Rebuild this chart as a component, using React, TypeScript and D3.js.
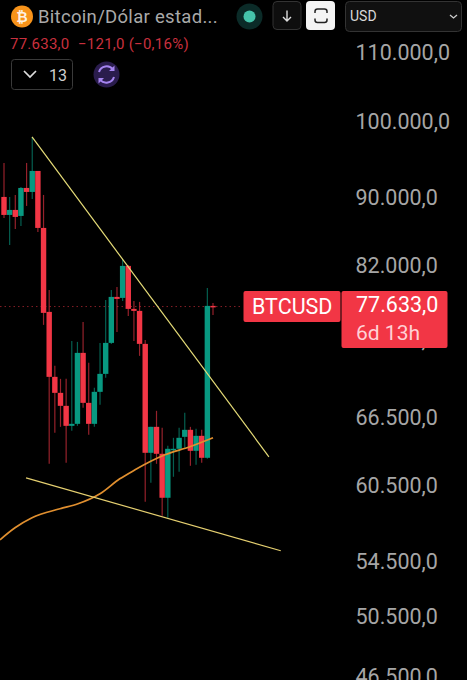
import React from "react";
import * as d3 from "d3";

const opens = [90310, 88095, 88705, 87974, 91438, 90935, 93607, 86529, 77064, 70456, 68918, 67693, 65851, 66033, 72826, 67973, 66033, 69014, 70747, 73837, 78674, 78566, 82112, 77383, 77170, 73736, 63446, 65760, 63359, 59629, 63709, 63797, 64860, 65489, 63621, 64950, 63010, 77704];
const highs = [94646, 90310, 90559, 91564, 94646, 98100, 93607, 90559, 79437, 71532, 70262, 70262, 74041, 73939, 76008, 71829, 69396, 73837, 78349, 79437, 79767, 82908, 82225, 78241, 78133, 74144, 65760, 67228, 65669, 64061, 64771, 65669, 67043, 65760, 65579, 65489, 79658, 78026];
const lows = [87732, 84525, 86411, 86769, 89196, 90061, 86054, 75694, 62491, 65219, 65760, 62577, 65399, 65851, 67506, 65039, 65760, 67786, 70359, 73736, 74967, 78241, 76639, 74041, 72525, 59300, 60875, 62491, 58166, 58005, 61381, 61805, 63885, 62319, 62404, 62577, 62923, 76746];
const closes = [88095, 88705, 87853, 91438, 90935, 93607, 86529, 76958, 70456, 68918, 67693, 65851, 66033, 72826, 67973, 66033, 69014, 70747, 73837, 78674, 78458, 82112, 77383, 77170, 73736, 63446, 65760, 63359, 59629, 63797, 63797, 64771, 65489, 63621, 64950, 63010, 77704, 77633];

const priceTicks = [110000, 100000, 90000, 82000, 74000, 66500, 60500, 54500, 50500, 46500];
const tickLabels = ["110.000,0", "100.000,0", "90.000,0", "82.000,0", "74.000,0", "66.500,0", "60.500,0", "54.500,0", "50.500,0", "46.500,0"];

const upperTrendIdx = [4.96, 46.9];
const upperTrendPrice = [98100, 63097];
const lowerTrendIdx = [3.9, 49];
const lowerTrendPrice = [61295, 55423];
const maIdx = [-0.71, 1.95, 4.96, 9.9, 13.1, 17, 20.5, 23.2, 25.8, 28.5, 32.9, 37];
const maPrice = [56269, 57209, 58005, 58731, 59134, 59956, 61209, 61974, 62663, 63271, 63973, 64771];

const lastPrice = 77633;
const RED = "#f23645";
const GREEN = "#089981";
const FONT = "Roboto, sans-serif";

export default function App() {
  const x = d3.scaleLinear().domain([0, 37]).range([4, 213]);
  const y = d3.scaleLog().domain([110000, 46500]).range([54, 678]);
  const line = d3.line<[number, number]>().x((d) => x(d[0])).y((d) => y(d[1]));
  const smooth = d3.line<[number, number]>().x((d) => x(d[0])).y((d) => y(d[1])).curve(d3.curveMonotoneX);
  const zip = (a: number[], b: number[]) => a.map((v, i) => [v, b[i]] as [number, number]);
  const bw = 5.4;
  const lastY = y(lastPrice);

  return (
    <svg width={467} height={680} style={{ position: "absolute", left: 0, top: 0, display: "block", background: "#000" }} fontFamily={FONT}>
      <rect width={467} height={680} fill="#000" />
      <line x1={0} x2={243} y1={lastY} y2={lastY} stroke={RED} strokeOpacity={0.55} strokeWidth={1} strokeDasharray="1.5 3" />

      {opens.map((o, i) => {
        const c = closes[i];
        const col = c < o ? RED : GREEN;
        const top = Math.min(y(o), y(c));
        const h = Math.max(1.5, Math.abs(y(o) - y(c)));
        return (
          <g key={i}>
            <line x1={x(i)} x2={x(i)} y1={y(highs[i])} y2={y(lows[i])} stroke={col} strokeOpacity={0.62} strokeWidth={1.2} />
            <rect x={x(i) - bw / 2} y={top} width={bw} height={h} fill={col} />
          </g>
        );
      })}

      <path d={smooth(zip(maIdx, maPrice)) ?? ""} fill="none" stroke="#e08f2f" strokeWidth={1.7} />
      <path d={line(zip(upperTrendIdx, upperTrendPrice)) ?? ""} fill="none" stroke="#e6dc78" strokeWidth={1.2} />
      <path d={line(zip(lowerTrendIdx, lowerTrendPrice)) ?? ""} fill="none" stroke="#e6d070" strokeWidth={1.2} />

      {priceTicks.map((p, i) => (
        <text key={p} x={355.5} y={y(p) + 6} fontSize={21.5} fill="#a6a6a6">{tickLabels[i]}</text>
      ))}

      <rect x={243.5} y={291} width={97} height={31} rx={2} fill={RED} />
      <rect x={341.5} y={291} width={106} height={57} rx={2} fill={RED} />
      <text x={252} y={314} fontSize={21.5} fill="#fff">BTCUSD</text>
      <text x={356} y={312} fontSize={21.5} fill="#fff">77.633,0</text>
      <text x={356} y={340} fontSize={21} fill="#ffd0d5">6d 13h</text>

      <circle cx={22} cy={16.5} r={11} fill="#f7931a" />
      <text x={22} y={21.5} fontSize={14} fontWeight={700} textAnchor="middle" fill="#fff" fillOpacity={0.9}>₿</text>
      <text x={38} y={23} fontSize={18.5} fill="#a9a9a9" letterSpacing={0.3}>Bitcoin/Dólar estad...</text>
      <text x={10} y={49} fontSize={15} fill="#c9303e" letterSpacing={0.25}>77.633,0</text>
      <text x={78} y={49} fontSize={15} fill="#c9303e" letterSpacing={0.25}>−121,0 (−0,16%)</text>

      <circle cx={249.5} cy={16.5} r={13} fill="#0b2b28" />
      <circle cx={249.5} cy={16.5} r={6} fill="#45c4ab" />

      <rect x={273} y={1.5} width={28} height={28} rx={4} fill="#0e0e0e" stroke="#333" />
      <path d="M287 10.5V21M283 17l4 4 4-4" fill="none" stroke="#ddd" strokeWidth={1.4} />

      <rect x={306} y={1} width={29} height={29} rx={4} fill="#f4f4f4" />
      <path d="M315 13v-1.5a2.5 2.5 0 0 1 2.5-2.5h7a2.5 2.5 0 0 1 2.5 2.5V13M315 18.5V20a2.5 2.5 0 0 0 2.5 2.5h7a2.5 2.5 0 0 0 2.5-2.5v-1.5" fill="none" stroke="#222" strokeWidth={1.5} />

      <rect x={345.5} y={1.5} width={116} height={30} rx={4} fill="#101010" stroke="#333" />
      <text x={350} y={21} fontSize={14} fill="#d8d8d8">USD</text>
      <path d="M450 15l3.5 3 3.5-3" fill="none" stroke="#ccc" strokeWidth={1.3} />

      <rect x={11.5} y={59.5} width={61} height={30} rx={3} fill="#000" stroke="#3a3a3a" />
      <path d="M24 71l6 6 6-6" fill="none" stroke="#ddd" strokeWidth={1.7} />
      <text x={49} y={81} fontSize={16} fill="#cfcfcf">13</text>

      <circle cx={106.5} cy={74.5} r={13} fill="#2a1c4d" />
      <path d="M99 72a8 8 0 0 1 14-2.5M114 77a8 8 0 0 1-14 2.5" fill="none" stroke="#a584f0" strokeWidth={2} />
      <path d="M114.5 65.5v5.5h-5.5M98.5 83.5V78h5.5" fill="#a584f0" stroke="none" />
    </svg>
  );
}
